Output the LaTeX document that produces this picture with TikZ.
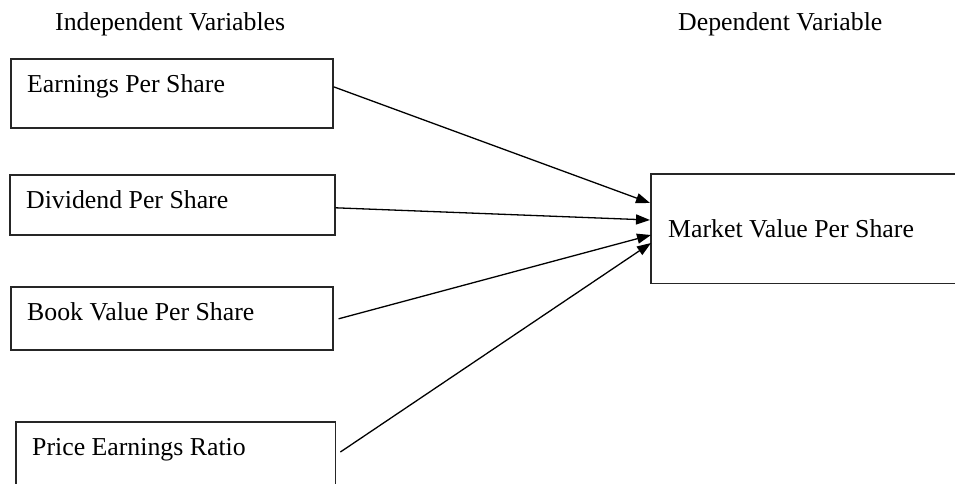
\documentclass[tikz,border=0pt]{standalone}
\usepackage{fontspec}
\setmainfont{Liberation Serif}
\usetikzlibrary{arrows.meta}
\begin{document}
\begin{tikzpicture}[x=1pt,y=-1pt,
  box/.style={draw=black!85, line width=1.6pt, inner sep=0pt, anchor=north west},
  edge/.style={draw=black!85, line width=1.6pt},
  txt/.style={anchor=base west, inner sep=0pt, font=\fontsize{25.8}{30}\selectfont},
  arr/.style={line width=1.3pt, -{Triangle[length=14pt,width=10pt]}}]
\useasboundingbox (0,0) rectangle (955,483);
\fill[white] (0,0) rectangle (955,483);
\clip (0,0) rectangle (955,483);
% titles
\node[txt] (t1) at (55,30) {Independent Variables};
\node[txt] (t2) at (678,30) {Dependent Variable};
% boxes
\node[box, minimum width=322pt, minimum height=69pt] (e1) at (10,58) {};
\node[box, minimum width=325pt, minimum height=60pt] (e2) at (9,174) {};
\node[box, minimum width=322pt, minimum height=63pt] (e3) at (10,286) {};
\node[anchor=north west, inner sep=0pt, minimum width=319pt, minimum height=90pt] (e4) at (16,422) {};
\draw[edge] (e4.south west) -- (e4.north west) -- (e4.north east) -- (e4.south east);
\node[anchor=north west, inner sep=0pt, minimum width=330pt, minimum height=109pt] (m) at (651,174) {};
\draw[edge] (m.north east) -- (m.north west) -- (m.south west) -- (m.south east);
% texts
\node[txt] (l1) at (27,92) {Earnings Per Share};
\node[txt] (l2) at (26,208) {Dividend Per Share};
\node[txt] (l3) at (27,320) {Book Value Per Share};
\node[txt] (l4) at (32,455) {Price Earnings Ratio};
\node[txt] (l5) at (668,237) {Market Value Per Share};
% arrows
\draw[arr] ([yshift=6.5pt]e1.east) -- ([xshift=-1pt]m.west |- 0,203);
\draw[arr] ([yshift=-3pt]e2.east) -- ([xshift=-1pt]m.west |- 0,220);
\draw[arr] ([xshift=5pt,yshift=-0.5pt]e3.east) -- (m.west |- 0,235);
\draw[arr] ([xshift=5pt]e4.east |- 0,452) -- (m.west |- 0,243);
\end{tikzpicture}
\end{document}
